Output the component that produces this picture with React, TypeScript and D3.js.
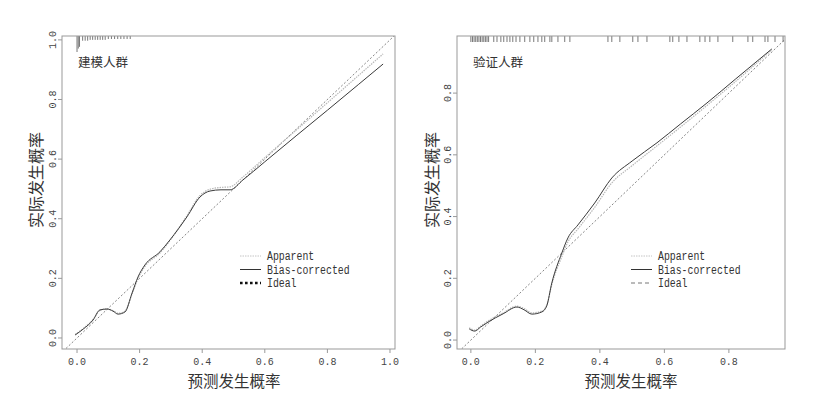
import { useEffect, useRef } from 'react';
import * as d3 from 'd3';

// 建模人群 (development cohort)
const devX = [-0.006, 0.02, 0.051, 0.073, 0.096, 0.115, 0.131, 0.153, 0.176, 0.195, 0.217, 0.265, 0.297, 0.351, 0.393, 0.425, 0.46, 0.489, 0.53, 0.6, 0.7, 0.8, 0.9, 0.978];
const devBias = [0.01, 0.03, 0.06, 0.094, 0.097, 0.09, 0.08, 0.087, 0.151, 0.205, 0.245, 0.289, 0.329, 0.406, 0.473, 0.493, 0.497, 0.497, 0.53, 0.591, 0.678, 0.764, 0.851, 0.919];
const devApparent = [0.012, 0.032, 0.062, 0.092, 0.098, 0.092, 0.083, 0.09, 0.148, 0.2, 0.24, 0.285, 0.327, 0.41, 0.478, 0.499, 0.505, 0.507, 0.54, 0.605, 0.697, 0.789, 0.881, 0.953];
const devRug = [0.0, 0.004, 0.008, 0.018, 0.026, 0.034, 0.042, 0.05, 0.058, 0.066, 0.074, 0.082, 0.09, 0.1, 0.11, 0.12, 0.13, 0.14, 0.15, 0.16, 0.17];
const devRugCount = [16, 12, 10, 3, 3, 3, 2, 2, 2, 2, 2, 2, 2, 1, 1, 1, 1, 1, 1, 1, 1];

// 验证人群 (validation cohort)
const valX = [-0.005, 0.012, 0.03, 0.053, 0.1, 0.143, 0.165, 0.189, 0.22, 0.235, 0.251, 0.282, 0.301, 0.332, 0.384, 0.437, 0.5, 0.577, 0.65, 0.732, 0.82, 0.933];
const valBias = [0.036, 0.029, 0.042, 0.058, 0.085, 0.107, 0.098, 0.084, 0.091, 0.11, 0.185, 0.282, 0.331, 0.373, 0.444, 0.525, 0.58, 0.639, 0.7, 0.768, 0.845, 0.943];
const valApparent = [0.04, 0.032, 0.045, 0.062, 0.088, 0.11, 0.102, 0.088, 0.094, 0.112, 0.18, 0.27, 0.318, 0.36, 0.43, 0.509, 0.565, 0.629, 0.69, 0.76, 0.837, 0.94];
const valRug = [0.0, 0.005, 0.01, 0.015, 0.02, 0.025, 0.03, 0.035, 0.04, 0.045, 0.05, 0.055, 0.071, 0.081, 0.093, 0.102, 0.112, 0.121, 0.13, 0.14, 0.152, 0.167, 0.183, 0.195, 0.208, 0.22, 0.229, 0.245, 0.251, 0.27, 0.291, 0.307, 0.425, 0.437, 0.462, 0.502, 0.518, 0.546, 0.617, 0.626, 0.645, 0.67, 0.71, 0.726, 0.741, 0.766, 0.812, 0.859, 0.874, 0.912, 0.921, 0.943, 0.968];

const devTicksX = [0, 0.2, 0.4, 0.6, 0.8, 1.0];
const devTicksY = [0, 0.2, 0.4, 0.6, 0.8, 1.0];
const valTicksX = [0, 0.2, 0.4, 0.6, 0.8];
const valTicksY = [0, 0.2, 0.4, 0.6, 0.8];

const legendLabels = ['Apparent', 'Bias-corrected', 'Ideal'];

const monoFont = '"Liberation Mono", "DejaVu Sans Mono", monospace';
const cjkFont = '"Noto Sans CJK SC", sans-serif';

function drawPanel(svg, p) {
  const x = d3.scaleLinear().domain(p.xlim).range([p.left, p.right]);
  const y = d3.scaleLinear().domain(p.ylim).range([p.bottom, p.top]);
  const g = svg.append('g');
  const clipId = 'clip-' + p.id;
  g.append('clipPath').attr('id', clipId).append('rect')
    .attr('x', p.left).attr('y', p.top).attr('width', p.right - p.left).attr('height', p.bottom - p.top);

  // ideal line
  g.append('line').attr('clip-path', `url(#${clipId})`)
    .attr('x1', x(-0.1)).attr('y1', y(-0.1)).attr('x2', x(1.1)).attr('y2', y(1.1))
    .attr('stroke', '#777').attr('stroke-width', 0.9).attr('stroke-dasharray', p.idealDash);

  const line = d3.line().x((d) => x(d[0])).y((d) => y(d[1])).curve(d3.curveMonotoneX);
  g.append('path').attr('d', line(p.xs.map((v, i) => [v, p.apparent[i]])))
    .attr('fill', 'none').attr('stroke', '#b8b8b8').attr('stroke-width', 1.2).attr('stroke-dasharray', '1.5,1');
  g.append('path').attr('d', line(p.xs.map((v, i) => [v, p.bias[i]])))
    .attr('fill', 'none').attr('stroke', '#3a3a3a').attr('stroke-width', 1);

  // rug / spike histogram along the top
  const maxC = d3.max(p.rugCount);
  g.selectAll('.rug').data(p.rug).enter().append('line')
    .attr('x1', (d) => x(d)).attr('x2', (d) => x(d))
    .attr('y1', p.top).attr('y2', (d, i) => p.top + p.rugMin + (p.rugMax - p.rugMin) * (p.rugCount[i] - 1) / Math.max(1, maxC - 1))
    .attr('stroke', '#555').attr('stroke-width', 0.8);

  // box
  g.append('rect').attr('x', p.left).attr('y', p.top).attr('width', p.right - p.left).attr('height', p.bottom - p.top)
    .attr('fill', 'none').attr('stroke', '#999').attr('stroke-width', 1);

  // axes
  p.ticksX.forEach((t) => {
    g.append('line').attr('x1', x(t)).attr('x2', x(t)).attr('y1', p.bottom).attr('y2', p.bottom + 4).attr('stroke', '#999');
    g.append('text').attr('x', x(t)).attr('y', p.bottom + 16).attr('text-anchor', 'middle')
      .attr('font-family', monoFont).attr('font-size', 11.5).attr('fill', '#444')
      .attr('textLength', 18).attr('lengthAdjust', 'spacingAndGlyphs').text(t.toFixed(1));
  });
  p.ticksY.forEach((t) => {
    g.append('line').attr('x1', p.left).attr('x2', p.left - 4).attr('y1', y(t)).attr('y2', y(t)).attr('stroke', '#999');
    g.append('text').attr('transform', `translate(${p.left - 6},${y(t)}) rotate(-90)`)
      .attr('text-anchor', 'middle').attr('font-family', monoFont).attr('font-size', 11.5).attr('fill', '#444')
      .attr('textLength', 18).attr('lengthAdjust', 'spacingAndGlyphs').text(t.toFixed(1));
  });

  g.append('text').attr('x', p.xTitleX).attr('y', 387).attr('text-anchor', 'middle')
    .attr('font-family', cjkFont).attr('font-size', 15.5).attr('fill', '#333').text('预测发生概率');
  g.append('text').attr('transform', `translate(${p.yTitleX},180) rotate(-90)`).attr('text-anchor', 'middle')
    .attr('font-family', cjkFont).attr('font-size', 16).attr('fill', '#333').text('实际发生概率');

  g.append('text').attr('x', p.left + 16).attr('y', 67).attr('font-family', cjkFont).attr('font-size', 12.5)
    .attr('fill', '#333').text(p.label);

  // legend
  const styles = [
    { stroke: '#c4c4c4', width: 1, dash: '1.5,1' },
    { stroke: '#333', width: 1, dash: null },
    p.legendIdeal,
  ];
  legendLabels.forEach((lab, i) => {
    const ly = 256 + i * 13.5;
    const s = styles[i];
    const ln = g.append('line').attr('x1', p.legX).attr('x2', p.legX + 21).attr('y1', ly).attr('y2', ly)
      .attr('stroke', s.stroke).attr('stroke-width', s.width);
    if (s.dash) ln.attr('stroke-dasharray', s.dash);
    g.append('text').attr('x', p.legX + 27).attr('y', ly + 4).attr('font-family', monoFont).attr('font-size', 12)
      .attr('fill', '#333').attr('textLength', lab.length * 5.9).attr('lengthAdjust', 'spacingAndGlyphs').text(lab);
  });
}

const App = () => {
  const svgRef = useRef(null);

  useEffect(() => {
    const svg = d3.select(svgRef.current);
    svg.selectAll('*').remove();
    svg.append('rect').attr('width', 821).attr('height', 394).attr('fill', '#fff');

    drawPanel(svg, {
      id: 'dev', label: '建模人群', left: 62, right: 395, top: 36, bottom: 349,
      xlim: [-0.048, 1.016], ylim: [-0.037, 1.013],
      xs: devX, bias: devBias, apparent: devApparent,
      rug: devRug, rugCount: devRugCount, rugMin: 3, rugMax: 16,
      ticksX: devTicksX, ticksY: devTicksY, idealDash: '2,2',
      xTitleX: 234, yTitleX: 42, legX: 240,
      legendIdeal: { stroke: '#111', width: 2.6, dash: '2.6,2.4' },
    });
    drawPanel(svg, {
      id: 'val', label: '验证人群', left: 457, right: 785, top: 36, bottom: 349,
      xlim: [-0.043, 0.974], ylim: [-0.029, 0.985],
      xs: valX, bias: valBias, apparent: valApparent,
      rug: valRug, rugCount: valRug.map(() => 1), rugMin: 6, rugMax: 6,
      ticksX: valTicksX, ticksY: valTicksY, idealDash: '2,2',
      xTitleX: 631, yTitleX: 438, legX: 631,
      legendIdeal: { stroke: '#777', width: 1, dash: '4,3' },
    });
  }, []);

  return <svg ref={svgRef} width={821} height={394} style={{ position: 'absolute', left: 0, top: 0 }}></svg>;
};

export default App;
